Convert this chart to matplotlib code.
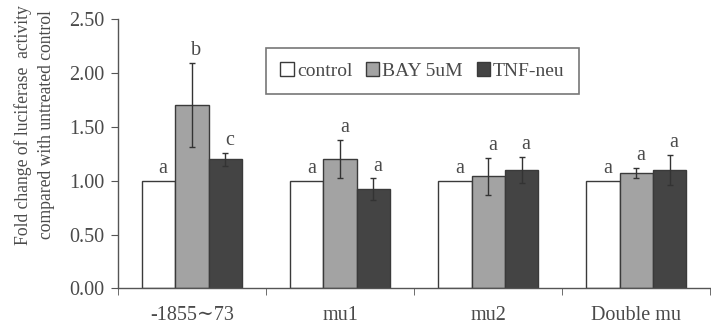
import matplotlib
matplotlib.use("Agg")
import matplotlib.pyplot as plt
import numpy as np

categories = ["-1855\u223c73", "mu1", "mu2", "Double mu"]
series_names = ["control", "BAY 5uM", "TNF-neu"]
values = {
    "control": [1.00, 1.00, 1.00, 1.00],
    "BAY 5uM": [1.70, 1.20, 1.04, 1.07],
    "TNF-neu": [1.20, 0.92, 1.10, 1.10],
}
errors = {
    "control": [0, 0, 0, 0],
    "BAY 5uM": [0.39, 0.18, 0.17, 0.05],
    "TNF-neu": [0.06, 0.10, 0.12, 0.14],
}
letters = {
    "control": ["a", "a", "a", "a"],
    "BAY 5uM": ["b", "a", "a", "a"],
    "TNF-neu": ["c", "a", "a", "a"],
}
yticks = [0.0, 0.5, 1.0, 1.5, 2.0, 2.5]
ylabel = "Fold change of luciferase  activity\ncompared with untreated control"

colors = {"control": "#ffffff", "BAY 5uM": "#a3a3a3", "TNF-neu": "#444444"}
edge = "#3a3a3a"
txt = "#4a4a4a"

plt.rcParams["font.family"] = ["Liberation Serif", "DejaVu Serif"]

fig = plt.figure(figsize=(7.11, 3.27), dpi=100)
ax = fig.add_axes([0.166, 0.118, 0.833, 0.824])

x = np.arange(len(categories))
w = 0.225
for i, s in enumerate(series_names):
    pos = x + (i - 1) * w
    ax.bar(pos, values[s], width=w, color=colors[s], edgecolor=edge,
           linewidth=1.0, label=s, zorder=2)
    errs = errors[s]
    for j in range(len(x)):
        if errs[j] > 0:
            ax.errorbar(pos[j], values[s][j], yerr=errs[j], fmt="none",
                        ecolor="#333333", elinewidth=1.0, capsize=2.5,
                        capthick=1.0, zorder=3)
        top = values[s][j] + errs[j]
        ax.text(pos[j] + 0.03, top + 0.025, letters[s][j], ha="center",
                va="bottom", fontsize=14.5, color=txt)

ax.set_xlim(-0.5, len(categories) - 0.5)
ax.set_ylim(0, 2.5)
ax.set_yticks(yticks)
ax.set_yticklabels([f"{v:.2f}" for v in yticks], fontsize=14.5, color=txt)
ax.set_xticks(x)
ax.set_xticklabels(categories, fontsize=14.5, color=txt)
ax.set_xticks(np.arange(-0.5, len(categories)), minor=True)
ax.tick_params(axis="x", which="major", length=0, pad=13)
ax.tick_params(axis="x", which="minor", length=5, color="#555555", direction="out")
ax.tick_params(axis="y", length=5, color="#555555", direction="out", pad=5)
for sp in ["top", "right"]:
    ax.spines[sp].set_visible(False)
for sp in ["left", "bottom"]:
    ax.spines[sp].set_color("#555555")
    ax.spines[sp].set_linewidth(1.0)
ax.set_ylabel(ylabel, fontsize=12.7, color=txt, linespacing=1.5)
ax.yaxis.set_label_coords(-0.106, 0.607)

leg = ax.legend(loc="upper left", bbox_to_anchor=(0.233, 0.93), ncol=3,
                frameon=True, fancybox=False, fontsize=14,
                handlelength=0.7, handleheight=0.7, handletextpad=0.15,
                columnspacing=0.7, borderpad=0.75, labelcolor=txt)
leg.get_frame().set_edgecolor("#555555")
leg.get_frame().set_linewidth(1.2)

fig.savefig("out.png", dpi=100)
